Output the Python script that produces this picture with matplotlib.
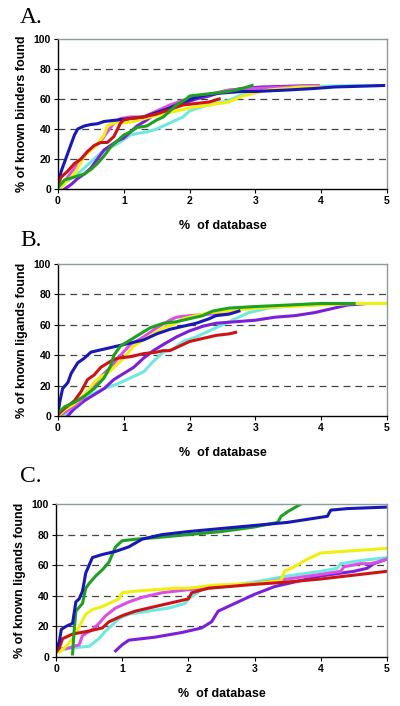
import matplotlib
matplotlib.use('Agg')
import matplotlib.pyplot as plt

# colours of the seven runs
colors = {'cyan': '#70e8e0', 'purple': '#7a20d8', 'magenta': '#da50e2',
          'yellow': '#f0f010', 'blue': '#1818b8', 'red': '#cc1414',
          'green': '#20a020'}

# ---- panel A : known binders
a_blue_x = [0, 0.05, 0.1, 0.15, 0.2, 0.25, 0.3, 0.4, 0.5, 0.6, 0.7, 0.9, 1.1, 1.3, 1.5, 1.7, 1.9, 2.1, 2.3, 2.5, 2.8, 3.0, 3.5, 3.9, 4.2, 4.6, 4.95]
a_blue_y = [3, 12, 18, 24, 30, 36, 40, 42, 43, 43.5, 45, 46, 47, 48, 51, 54, 58, 61, 63, 64, 65, 65, 66, 67, 68, 68.5, 69]
a_magenta_x = [0.05, 0.15, 0.25, 0.35, 0.45, 0.55, 0.65, 0.75, 0.85, 0.95, 1.1, 1.3, 1.5, 1.7, 1.9, 2.1, 2.3, 2.6, 3.0, 3.5, 3.95]
a_magenta_y = [2, 8, 14, 20, 25, 28, 32, 38, 44, 47, 48, 48, 52, 56, 59, 61, 63, 66, 67, 68, 69]
a_yellow_x = [0.05, 0.15, 0.25, 0.3, 0.4, 0.5, 0.6, 0.7, 0.75, 0.85, 1.0, 1.15, 1.4, 1.6, 1.8, 2.0, 2.3, 2.6, 2.8, 3.2, 3.7, 4.0]
a_yellow_y = [1, 6, 10, 14, 22, 26, 30, 36, 42, 44, 44, 45, 48, 50, 52, 54, 56, 58, 62, 66, 68, 68]
a_cyan_x = [0.05, 0.2, 0.35, 0.5, 0.6, 0.7, 0.8, 0.9, 1.0, 1.1, 1.2, 1.35, 1.5, 1.7, 1.9, 2.0, 2.2, 2.4, 2.6, 2.8, 2.95, 3.2, 3.6, 4.0, 4.5, 4.85]
a_cyan_y = [3, 7, 12, 18, 22, 26, 28, 30, 33, 36, 37, 38, 40, 44, 48, 52, 55, 57, 59, 63, 66, 67, 68, 68.5, 69, 69]
a_red_x = [0, 0.05, 0.15, 0.25, 0.35, 0.45, 0.55, 0.65, 0.75, 0.85, 0.95, 1.0, 1.1, 1.3, 1.5, 1.7, 1.9, 2.1, 2.3, 2.45]
a_red_y = [3, 8, 12, 17, 20, 25, 29, 31, 31, 35, 44, 46, 47, 48, 50, 53, 56, 57, 58, 60]
a_green_x = [0, 0.1, 0.25, 0.4, 0.5, 0.6, 0.7, 0.8, 0.9, 1.0, 1.1, 1.2, 1.35, 1.5, 1.6, 1.7, 1.8, 1.95, 2.0, 2.2, 2.4, 2.6, 2.8, 2.95]
a_green_y = [1, 6, 8, 10, 13, 17, 22, 28, 32, 36, 38, 41, 42, 46, 48, 52, 56, 60, 62, 63, 64, 65, 67, 69]
a_purple_x = [0.1, 0.2, 0.3, 0.4, 0.5, 0.6, 0.7, 0.8, 0.9, 1.0, 1.1, 1.2, 1.35, 1.5, 1.7, 1.9, 2.1, 2.3, 2.5, 2.8, 3.1, 3.5, 3.95]
a_purple_y = [0, 3, 7, 10, 14, 20, 26, 29, 32, 34, 38, 42, 46, 51, 55, 57, 60, 62, 65, 67, 68, 68.5, 69]

# ---- panel B : known ligands
b_blue_x = [0, 0.03, 0.07, 0.15, 0.2, 0.3, 0.4, 0.5, 0.7, 0.9, 1.1, 1.3, 1.5, 1.7, 1.9, 2.1, 2.3, 2.4, 2.6, 2.75]
b_blue_y = [2, 10, 18, 22, 28, 35, 38, 42, 44, 46, 48, 50, 54, 57, 59, 61, 64, 66, 67, 69]
b_magenta_x = [0.05, 0.2, 0.35, 0.5, 0.65, 0.8, 0.95, 1.1, 1.3, 1.5, 1.7, 1.8, 2.0, 2.3, 2.6]
b_magenta_y = [1, 5, 10, 18, 26, 32, 40, 47, 52, 58, 63, 65, 66, 67, 68]
b_yellow_x = [0, 0.1, 0.25, 0.4, 0.55, 0.65, 0.75, 0.85, 1.0, 1.15, 1.3, 1.45, 1.6, 1.75, 1.9, 2.1, 2.3, 2.6, 3.0, 3.5, 4.0, 4.5, 5.0]
b_yellow_y = [0, 4, 8, 14, 22, 26, 28, 32, 38, 46, 50, 54, 58, 60, 64, 66, 68, 69, 71, 72, 73, 74, 74]
b_cyan_x = [0.1, 0.3, 0.5, 0.7, 0.9, 1.1, 1.3, 1.45, 1.6, 1.75, 1.9, 2.1, 2.3, 2.5, 2.7, 2.9, 3.2, 3.6, 4.0, 4.5, 5.0]
b_cyan_y = [0, 6, 14, 18, 21, 25, 29, 36, 42, 44, 49, 52, 56, 60, 64, 68, 71, 73, 74, 74, 74]
b_red_x = [0, 0.1, 0.25, 0.35, 0.45, 0.55, 0.65, 0.8, 0.9, 1.1, 1.3, 1.5, 1.6, 1.7, 1.85, 2.0, 2.2, 2.4, 2.6, 2.7]
b_red_y = [1, 5, 10, 16, 24, 27, 32, 36, 38, 39, 41, 42, 43, 43, 46, 49, 51, 53, 54, 55]
b_green_x = [0, 0.1, 0.25, 0.4, 0.55, 0.7, 0.8, 0.85, 0.95, 1.1, 1.25, 1.4, 1.6, 1.8, 2.0, 2.2, 2.35, 2.6, 3.0, 3.5, 4.0, 4.5]
b_green_y = [2, 6, 9, 13, 18, 25, 33, 40, 46, 50, 54, 58, 61, 62, 64, 66, 69, 71, 72, 73, 74, 74]
b_purple_x = [0.15, 0.25, 0.4, 0.55, 0.7, 0.85, 1.0, 1.15, 1.3, 1.45, 1.6, 1.8, 2.0, 2.2, 2.4, 2.7, 3.0, 3.3, 3.6, 3.9, 4.1, 4.4, 4.7]
b_purple_y = [0, 5, 10, 14, 18, 24, 28, 32, 38, 43, 47, 52, 56, 59, 61, 62, 63, 65, 66, 68, 70, 73, 74]

# ---- panel C : known ligands
c_blue_x = [0, 0.05, 0.08, 0.15, 0.25, 0.3, 0.35, 0.4, 0.45, 0.5, 0.55, 0.7, 0.9, 1.1, 1.3, 1.6, 2.0, 2.5, 3.0, 3.5, 3.8, 4.1, 4.15, 4.4, 4.7, 5.0]
c_blue_y = [5, 10, 18, 20, 22, 36, 38, 43, 55, 60, 65, 67, 69, 72, 77, 80, 82, 84, 86, 88, 90, 92, 96, 97, 97.5, 98]
c_green_x = [0.25, 0.27, 0.3, 0.4, 0.45, 0.5, 0.6, 0.7, 0.8, 0.9, 1.0, 1.2, 1.5, 2.0, 2.5, 3.0, 3.35, 3.4, 3.5, 3.7]
c_green_y = [2, 15, 30, 35, 45, 48, 53, 57, 62, 72, 76, 77, 78, 80, 82, 85, 88, 92, 95, 100]
c_yellow_x = [0.05, 0.15, 0.25, 0.35, 0.45, 0.55, 0.7, 0.85, 0.95, 1.0, 1.2, 1.5, 1.8, 2.0, 2.4, 3.0, 3.4, 3.45, 3.6, 3.8, 4.0, 4.5, 5.0]
c_yellow_y = [3, 7, 12, 20, 28, 31, 33, 36, 38, 42, 43, 44, 45, 45, 47, 48, 50, 56, 59, 64, 68, 69.5, 71]
c_magenta_x = [0, 0.2, 0.35, 0.4, 0.55, 0.65, 0.75, 0.9, 1.1, 1.3, 1.6, 2.0, 2.5, 3.0, 3.5, 4.0, 4.3, 4.35, 4.6, 4.75, 4.85, 5.0]
c_magenta_y = [5, 6, 8, 14, 18, 22, 27, 32, 36, 39, 42, 44, 46, 48, 51, 54, 56, 59, 61, 61, 62, 64]
c_cyan_x = [0, 0.25, 0.5, 0.65, 0.75, 0.85, 0.95, 1.1, 1.4, 1.7, 1.95, 2.0, 2.2, 2.5, 3.0, 3.5, 4.0, 4.25, 4.3, 4.6, 5.0]
c_cyan_y = [4, 6, 7, 12, 17, 21, 25, 28, 30, 32, 35, 38, 44, 46, 49, 53, 56, 58, 61, 63, 65]
c_red_x = [0, 0.05, 0.1, 0.25, 0.5, 0.7, 0.8, 1.0, 1.2, 1.5, 1.8, 2.0, 2.05, 2.3, 2.6, 3.0, 3.5, 4.0, 4.5, 5.0]
c_red_y = [3, 6, 12, 15, 17, 19, 23, 27, 30, 33, 36, 38, 42, 45, 46, 47.5, 49, 51, 53.5, 56]
c_purple_x = [0.9, 1.0, 1.1, 1.5, 1.9, 2.2, 2.35, 2.45, 2.6, 2.8, 3.0, 3.3, 3.5, 4.0, 4.5, 4.7, 4.8, 5.0]
c_purple_y = [4, 8, 11, 13, 16, 19, 23, 30, 33, 37, 41, 46, 48, 53, 56, 58, 61, 64]

panels = [
    ('A.', '% of known binders found', [0.145, 0.7323, 0.8225, 0.2125],
     [(a_cyan_x, a_cyan_y, 'cyan'), (a_purple_x, a_purple_y, 'purple'),
      (a_magenta_x, a_magenta_y, 'magenta'), (a_yellow_x, a_yellow_y, 'yellow'),
      (a_blue_x, a_blue_y, 'blue'), (a_red_x, a_red_y, 'red'),
      (a_green_x, a_green_y, 'green')], 0.968),
    ('B.', '% of known ligands found', [0.145, 0.4108, 0.8225, 0.2153],
     [(b_cyan_x, b_cyan_y, 'cyan'), (b_purple_x, b_purple_y, 'purple'),
      (b_magenta_x, b_magenta_y, 'magenta'), (b_yellow_x, b_yellow_y, 'yellow'),
      (b_blue_x, b_blue_y, 'blue'), (b_red_x, b_red_y, 'red'),
      (b_green_x, b_green_y, 'green')], 0.651),
    ('C.', '% of known ligands found', [0.14, 0.0694, 0.8275, 0.2167],
     [(c_cyan_x, c_cyan_y, 'cyan'), (c_purple_x, c_purple_y, 'purple'),
      (c_magenta_x, c_magenta_y, 'magenta'), (c_yellow_x, c_yellow_y, 'yellow'),
      (c_red_x, c_red_y, 'red'), (c_green_x, c_green_y, 'green'),
      (c_blue_x, c_blue_y, 'blue')], 0.317),
]

plt.rcParams['font.family'] = ['Liberation Sans', 'DejaVu Sans']
fig = plt.figure(figsize=(4.0, 7.06), dpi=100)

for letter, ylabel, rect, series, ly in panels:
    ax = fig.add_axes(rect)
    for y in [20, 40, 60, 80]:
        ax.axhline(y, color='#444444', lw=0.9, ls=(0, (5.5, 4)), zorder=1)
    for x, y, c in series:
        ax.plot(x, y, color=colors[c], lw=2.2, solid_joinstyle='round', zorder=2)
    ax.set_xlim(0, 5)
    ax.set_ylim(0, 100)
    ax.set_xticks(range(0, 6))
    ax.set_yticks(range(0, 101, 20))
    ax.tick_params(direction='out', length=3, width=0.8, labelsize=7.5, pad=2)
    for lab in ax.get_xticklabels() + ax.get_yticklabels():
        lab.set_fontweight('bold')
    ax.spines['left'].set_color('black')
    ax.spines['bottom'].set_color('black')
    ax.spines['top'].set_color('#8a9c9c')
    ax.spines['right'].set_color('#8a9c9c')
    for s in ax.spines.values():
        s.set_linewidth(1.0)
    ax.set_xlabel('%  of database', fontsize=9, fontweight='bold', labelpad=10)
    ax.set_ylabel(ylabel, fontsize=9, fontweight='bold', labelpad=4)
    fig.text(0.05, ly, letter, fontsize=17, family=['Liberation Serif', 'DejaVu Serif'],
             ha='left', va='baseline')

plt.savefig('out.png', dpi=100)
